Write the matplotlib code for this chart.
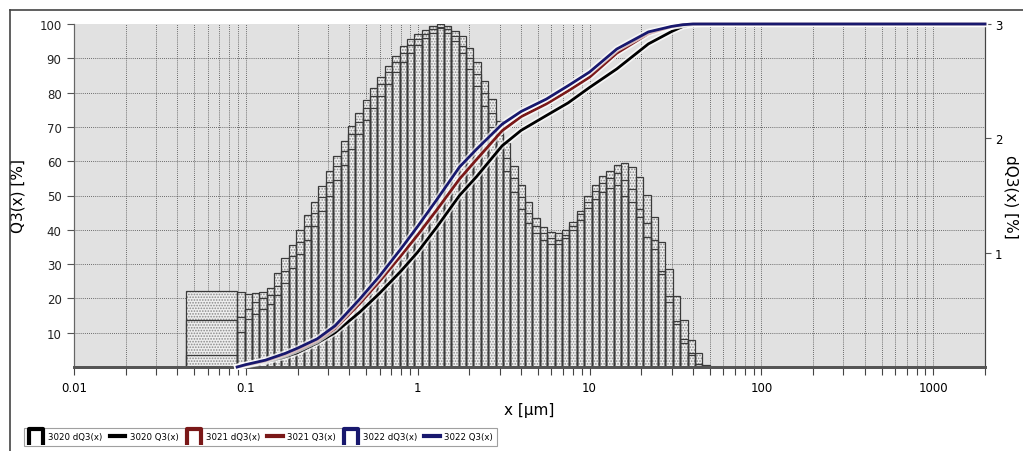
import numpy as np
import matplotlib.pyplot as plt
import matplotlib.patheffects as pe
from matplotlib.lines import Line2D
from matplotlib.path import Path
from matplotlib.ticker import LogLocator, MultipleLocator, NullFormatter

plt.rcParams['font.family'] = ['DejaVu Sans']
plt.rcParams['hatch.linewidth'] = 0.8

# size classes [um]: one wide class below 0.089, then geometric classes up to 50
edges = np.concatenate([[0.045], np.geomspace(0.089, 50, 65)])

# density dQ3(x) [%] per class
dq3_3022 = [0.666, 0.657, 0.639, 0.648, 0.660, 0.690, 0.822, 0.954, 1.071, 1.200, 1.329,
            1.446, 1.587, 1.710, 1.845, 1.980, 2.112, 2.220, 2.331, 2.439, 2.538,
            2.634, 2.724, 2.805, 2.868, 2.913, 2.949, 2.985, 2.970, 2.925, 2.850,
            2.745, 2.610, 2.460, 2.280, 2.100, 1.905, 1.710, 1.530, 1.380, 1.260,
            1.170, 1.110, 1.080, 1.080, 1.125, 1.200, 1.290, 1.395, 1.470, 1.530,
            1.566, 1.590, 1.500, 1.440, 1.311, 1.140, 1.032, 0.810, 0.570, 0.375,
            0.210, 0.105, 0.024, 0.000]
dq3_3021 = [0.411, 0.435, 0.510, 0.570, 0.600, 0.630, 0.705, 0.840, 0.975, 1.095, 1.230,
            1.350, 1.485, 1.620, 1.755, 1.890, 2.040, 2.145, 2.265, 2.370, 2.475,
            2.580, 2.670, 2.745, 2.820, 2.865, 2.910, 2.955, 3.000, 2.955, 2.895,
            2.805, 2.700, 2.565, 2.400, 2.220, 2.025, 1.830, 1.650, 1.485, 1.350,
            1.230, 1.170, 1.125, 1.110, 1.155, 1.230, 1.335, 1.440, 1.542, 1.605,
            1.650, 1.695, 1.632, 1.560, 1.380, 1.260, 1.110, 0.840, 0.624, 0.405,
            0.243, 0.120, 0.027, 0.000]
dq3_3020 = [0.108, 0.309, 0.420, 0.465, 0.510, 0.555, 0.630, 0.735, 0.870, 0.990, 1.110,
            1.230, 1.365, 1.500, 1.635, 1.770, 1.905, 2.040, 2.160, 2.265, 2.370,
            2.475, 2.580, 2.670, 2.745, 2.820, 2.880, 2.925, 2.964, 2.985, 2.940,
            2.895, 2.790, 2.670, 2.505, 2.340, 2.151, 1.959, 1.761, 1.590, 1.440,
            1.302, 1.227, 1.179, 1.176, 1.200, 1.266, 1.368, 1.500, 1.596, 1.674,
            1.716, 1.770, 1.782, 1.746, 1.665, 1.506, 1.314, 1.092, 0.858, 0.624,
            0.414, 0.240, 0.120, 0.015]

# cumulative Q3(x) [%]
x_q3 = [0.089, 0.1, 0.13, 0.17, 0.2, 0.26, 0.33, 0.46, 0.6, 0.8, 1.0, 1.3, 1.75,
        2.2, 3.1, 4.0, 5.6, 7.5, 10, 14.4, 22, 30, 35, 40, 45, 2000]
q3_3022 = [0, 0.7, 2.0, 4.0, 5.5, 8.2, 12.0, 19.8, 26.5, 34.5, 41.0, 49.0, 58.3,
           63.5, 70.8, 74.5, 78.1, 82.0, 86.0, 92.7, 97.7, 99.3, 99.8, 100, 100, 100]
q3_3021 = [0, 0.6, 1.8, 3.6, 5.0, 7.7, 11.2, 18.5, 25.0, 32.5, 38.5, 46.0, 54.8,
           60.5, 68.9, 73.0, 76.7, 80.5, 84.5, 91.5, 97.2, 99.2, 99.8, 100, 100, 100]
q3_3020 = [0, 0.5, 1.5, 3.0, 4.2, 7.0, 10.0, 16.0, 21.5, 28.0, 33.5, 41.0, 50.0,
           55.5, 64.5, 69.0, 73.3, 77.0, 81.5, 86.9, 94.2, 97.8, 99.3, 99.8, 100, 100]

samples = ['3020', '3021', '3022']
colors = ['#000000', '#7a1818', '#18186e']
dq3_all = [dq3_3020, dq3_3021, dq3_3022]
q3_all = [q3_3020, q3_3021, q3_3022]

fig = plt.figure(figsize=(10.23, 4.52), dpi=100)
# back axes: dQ3 histogram (right scale), background and grid
axd = fig.add_axes([74 / 1023, 1 - 368 / 452, 911 / 1023, 343 / 452])
# front axes: Q3 curves (left scale)
ax = axd.twinx()

axd.set_xscale('log')
axd.set_xlim(0.01, 2000)
axd.set_ylim(0, 3)
ax.set_ylim(0, 100)
axd.set_facecolor('#e1e1e1')

widths = np.diff(edges)
# stippled fill
for vals in dq3_all:
    axd.bar(edges[:-1], vals, width=widths, align='edge', facecolor='#eeeeee',
            edgecolor='#8a8a8a', linewidth=0, hatch='......', zorder=2)
# class outlines
for vals in dq3_all:
    axd.bar(edges[:-1], vals, width=widths, align='edge', fill=False,
            edgecolor='#3a3a3a', linewidth=0.9, zorder=3)

halo = [pe.Stroke(linewidth=4.5, foreground='white', alpha=0.7), pe.Normal()]
for c, q in zip(colors, q3_all):
    ax.plot(x_q3, q, color=c, lw=2, clip_on=False, path_effects=halo, zorder=5)

# grid (dotted, every decade subdivision and every 10 %)
axd.set_axisbelow(True)
axd.xaxis.set_major_locator(LogLocator(base=10, numticks=10))
axd.xaxis.set_minor_locator(LogLocator(base=10, subs=np.arange(2, 10), numticks=20))
axd.xaxis.set_minor_formatter(NullFormatter())
axd.yaxis.set_minor_locator(MultipleLocator(0.3))
dots = dict(color='#444444', linestyle=(0, (1, 1.5)), linewidth=0.6)
axd.grid(True, which='both', axis='x', **dots)
axd.grid(True, which='minor', axis='y', **dots)

# x ticks
axd.set_xticks([0.01, 0.1, 1, 10, 100, 1000])
axd.set_xticklabels(['0.01', '0.1', '1', '10', '100', '1000'],
                    family=['Liberation Sans Narrow', 'DejaVu Sans'], fontsize=8.5)
axd.tick_params(axis='x', which='both', direction='out', length=6, width=0.8,
                color='#444444', pad=4)

# dQ3 axis on the right
axd.yaxis.tick_right()
axd.yaxis.set_label_position('right')
axd.set_yticks([1, 2, 3])
axd.tick_params(axis='y', which='major', length=4, color='#555555', labelsize=8.5, pad=3)
axd.tick_params(axis='y', which='minor', length=0)

# Q3 axis on the left
ax.yaxis.tick_left()
ax.yaxis.set_label_position('left')
ax.set_yticks(np.arange(10, 101, 10))
ax.tick_params(axis='y', length=5, color='#555555', labelsize=8.5,
               labelcolor='#222222', pad=4)

for a in (ax, axd):
    a.spines['top'].set_visible(False)
    a.spines['left'].set_color('#666666')
    a.spines['right'].set_color('#444444')
    a.spines['bottom'].set_color('#555555')
    a.spines['bottom'].set_linewidth(2)

ax.set_ylabel('Q3(x) [%]', fontsize=11, labelpad=10)
axd.set_ylabel('dQ3(x) [%]', fontsize=11, rotation=270, labelpad=12)
axd.set_xlabel('x [\u00b5m]', fontsize=11, labelpad=6)

# legend
pi_path = Path([(-1, -1.3), (-1, 1), (1, 1), (1, -1.3)],
               [Path.MOVETO, Path.LINETO, Path.LINETO, Path.LINETO])
handles, labels = [], []
for name, c in zip(samples, colors):
    handles.append(Line2D([], [], ls='none', marker=pi_path, markersize=13,
                          markeredgewidth=3, markerfacecolor='none', markeredgecolor=c))
    labels.append(f'{name} dQ3(x)')
    handles.append(Line2D([], [], color=c, lw=3))
    labels.append(f'{name} Q3(x)')
leg = fig.legend(handles, labels, loc='lower left', bbox_to_anchor=(20 / 1023, 1 / 452),
                 ncol=6, fontsize=6.2, frameon=True, fancybox=False, edgecolor='#888888',
                 handlelength=1.8, handleheight=1.3, columnspacing=0.85,
                 handletextpad=0.5, borderpad=0.5)
leg.get_frame().set_linewidth(0.8)

# outer frame of the export
fig.add_artist(Line2D([10 / 1023, 10 / 1023], [0, 1 - 11 / 452], transform=fig.transFigure,
                      color='#444444', lw=1.2))
fig.add_artist(Line2D([10 / 1023, 1], [1 - 11 / 452, 1 - 11 / 452], transform=fig.transFigure,
                      color='#444444', lw=1.2))

fig.savefig('out.png', dpi=100)
